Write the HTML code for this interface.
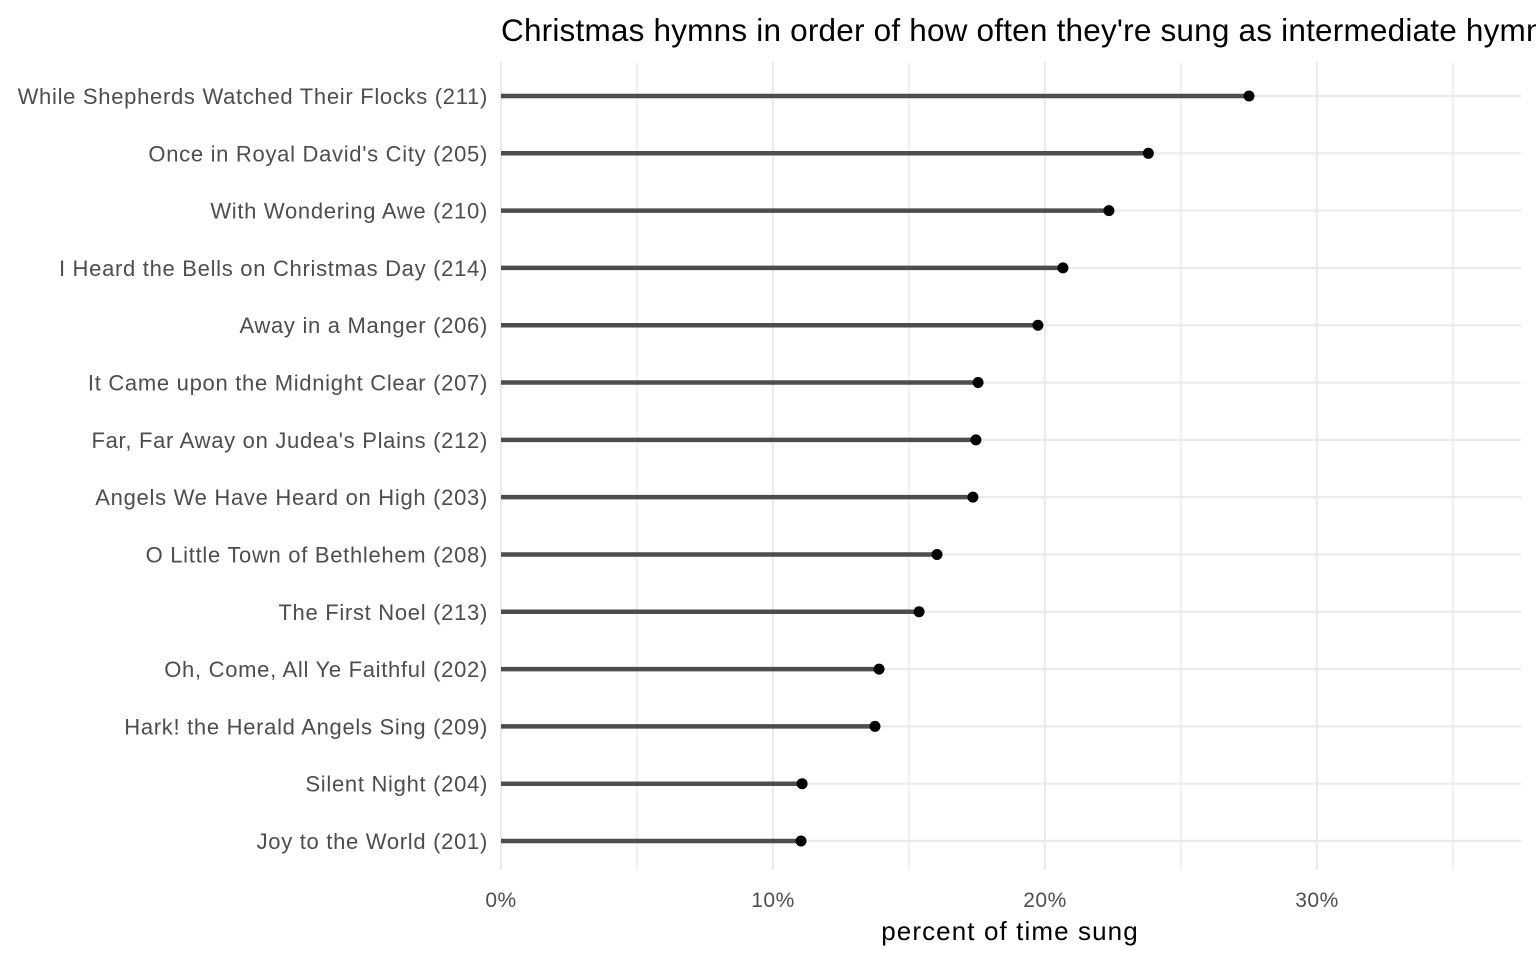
<!DOCTYPE html>
<html><head><meta charset="utf-8"><style>
html,body{margin:0;padding:0;background:#fff;overflow:hidden;}
svg{display:block;font-family:"Liberation Sans",Arial,sans-serif;}
</style></head><body>
<svg id="chart" width="1536" height="960" xmlns="http://www.w3.org/2000/svg">
<text x="501" y="41" font-size="31.5" letter-spacing="0.2" fill="#000">Christmas hymns in order of how often they're sung as intermediate hymns</text>
<g id="grid"></g>
<g id="marks"></g>
<g id="ylabels"></g>
<g id="xlabels"></g>
<text x="1010" y="940" font-size="26" letter-spacing="1.1" fill="#000" text-anchor="middle">percent of time sung</text>
</svg>
<script>
const hymns = ["While Shepherds Watched Their Flocks (211)","Once in Royal David's City (205)","With Wondering Awe (210)","I Heard the Bells on Christmas Day (214)","Away in a Manger (206)","It Came upon the Midnight Clear (207)","Far, Far Away on Judea's Plains (212)","Angels We Have Heard on High (203)","O Little Town of Bethlehem (208)","The First Noel (213)","Oh, Come, All Ye Faithful (202)","Hark! the Herald Angels Sing (209)","Silent Night (204)","Joy to the World (201)"];
const percents = [27.5,23.8,22.35,20.66,19.74,17.54,17.46,17.35,16.03,15.37,13.9,13.75,11.07,11.03];
const majorTicks = [0,10,20,30];
const minorTicks = [5,15,25,35];
const tickLabels = ["0%","10%","20%","30%"];

const NS="http://www.w3.org/2000/svg";
const x = v => 501 + v*27.2;
const y = i => 96 + i*(841-96)/(hymns.length-1);
function mk(tag, attrs, parent){const e=document.createElementNS(NS,tag);for(const k in attrs)e.setAttribute(k,attrs[k]);document.getElementById(parent).appendChild(e);return e;}

minorTicks.forEach(t=>{
  const l=mk('line',{x1:x(t),x2:x(t),y1:62,y2:870,stroke:'#ebebeb','stroke-width':1.5},'grid');
  
  
});
majorTicks.forEach((t,i)=>{
  const l=mk('line',{x1:x(t),x2:x(t),y1:62,y2:870,stroke:'#ebebeb','stroke-width':2.2},'grid');
  
  
  const tx=mk('text',{x:x(t),y:907,'font-size':21,'letter-spacing':0.5,fill:'#4d4d4d','text-anchor':'middle'},'xlabels');
  tx.textContent=tickLabels[i];
  
  
});
hymns.forEach((h,i)=>{
  const g=mk('line',{x1:501,x2:1521,y1:y(i),y2:y(i),stroke:'#ebebeb','stroke-width':2.2},'grid');
  
  
  const s=mk('line',{x1:x(0),x2:x(percents[i]),y1:y(i),y2:y(i),stroke:'#4d4d4d','stroke-width':4.5},'marks');
  
  
  const c=mk('circle',{cx:x(percents[i]),cy:y(i),r:5.5,fill:'#000'},'marks');
  
  
  const t=mk('text',{x:488,y:y(i)+8,'font-size':22,'letter-spacing':0.7,fill:'#4d4d4d','text-anchor':'end'},'ylabels');
  t.textContent=h;
  
  
});
</script>
</body></html>
